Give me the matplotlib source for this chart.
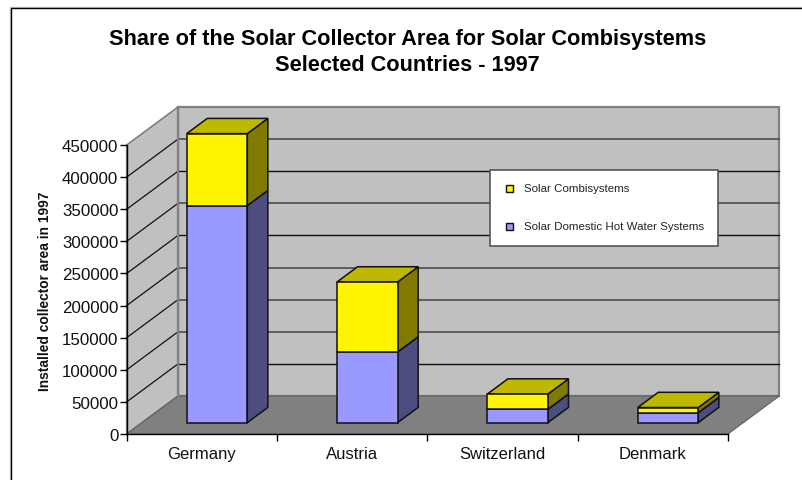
import matplotlib
matplotlib.use('Agg')
import matplotlib.pyplot as plt
from matplotlib.lines import Line2D
from matplotlib.patches import Polygon, Rectangle

countries = ['Germany', 'Austria', 'Switzerland', 'Denmark']
hot_water = [338000, 110000, 21000, 15500]
combi = [112000, 109000, 23500, 8000]
y_ticks = list(range(0, 450001, 50000))

W, H = 802, 481
# front plane of the 3d box, in pixels
LEFT, RIGHT, TOP, BOTTOM = 126.7, 728.0, 146.0, 435.0
DX, DY = 51.3, 38.0  # pixels of depth, converted to axis units below
BAR_W = 0.403
BAR_OFF = 0.297

# the back wall lines come out black or grey in the reference
back_grid = {50000: '#111111', 100000: '#555555', 150000: '#555555', 200000: '#555555',
             250000: '#111111', 300000: '#555555', 350000: '#111111', 400000: '#555555'}

plt.rcParams['font.family'] = ['Liberation Sans', 'DejaVu Sans']
fig = plt.figure(figsize=(W / 100, H / 100), dpi=100)

ax = fig.add_axes([LEFT / W, 1 - BOTTOM / H, (RIGHT - LEFT) / W, (BOTTOM - TOP) / H])
ax.set_xlim(0, 4)
ax.set_ylim(0, 450000)
ax.patch.set_visible(False)
for s in ['top', 'right']:
    ax.spines[s].set_visible(False)
for s in ['left', 'bottom']:
    ax.spines[s].set_linewidth(1.0)
    ax.spines[s].set_zorder(20)

# depth offsets in data units
dx = DX * 4 / (RIGHT - LEFT)
dy = DY * 450000 / (BOTTOM - TOP)


def poly(pts, fc, ec='none', lw=0.0, z=1):
    ax.add_patch(Polygon(pts, closed=True, facecolor=fc, edgecolor=ec, linewidth=lw,
                         zorder=z, clip_on=False, joinstyle='miter'))


# walls and floor
ymax = 450000
poly([(dx, dy), (4 + dx, dy), (4 + dx, ymax + dy), (dx, ymax + dy)], '#c0c0c0', '#808080', 1.6, 1)
poly([(0, 0), (dx, dy), (dx, ymax + dy), (0, ymax)], '#c0c0c0', '#808080', 1.2, 1)
poly([(0, 0), (dx, dy), (4 + dx, dy), (4, 0)], '#808080', '#606060', 0.8, 1.5)

# gridlines on side and back wall
for v, c in back_grid.items():
    ax.plot([0, dx], [v, v + dy], color='#111111', lw=0.9, zorder=2, clip_on=False)
    ax.plot([dx, 4 + dx], [v + dy, v + dy], color=c, lw=1.3 if c == '#555555' else 1.0,
            zorder=2, clip_on=False)
ax.plot([dx, dx], [dy, ymax + dy], color='#808080', lw=1.6, zorder=2.5, clip_on=False)


def box(x0, y0, y1, front, side, top, z):
    x1 = x0 + BAR_W
    ox, oy = 0.3 * dx, 0.3 * dy
    bx, by = 0.4 * dx, 0.4 * dy
    a, b = x0 + ox, x1 + ox
    lo, hi = y0 + oy, y1 + oy
    lw = 1.1
    poly([(b, lo), (b + bx, lo + by), (b + bx, hi + by), (b, hi)], side, '#111111', lw, z)
    poly([(a, hi), (b, hi), (b + bx, hi + by), (a + bx, hi + by)], top, '#111111', lw, z)
    poly([(a, lo), (b, lo), (b, hi), (a, hi)], front, '#111111', lw, z + 0.1)


# bottom to top for each bar, so the lids stay visible
for i in range(len(countries)):
    box(i + BAR_OFF, 0, hot_water[i], '#9999ff', '#4d4d7f', '#4d4d7f', 5 + i)
    box(i + BAR_OFF, hot_water[i], hot_water[i] + combi[i], '#fff500', '#807a00', '#bfb800', 5.3 + i)

# axes ticks and labels
ax.set_yticks(y_ticks)
ax.set_yticklabels([str(v) for v in y_ticks], fontsize=12.2, color='#111111')
ax.tick_params(axis='y', length=5, width=1.0, pad=1)
ax.set_xticks(range(5))
ax.set_xticklabels([])
ax.tick_params(axis='x', length=5, width=1.0, direction='out')
for i, c in enumerate(countries):
    fig.text((LEFT + (i + 0.5) * (RIGHT - LEFT) / 4) / W, 1 - 454.5 / H, c, ha='center', va='center',
             fontsize=12, color='#111111')

fig.text(45 / W, 1 - 291.5 / H, 'Installed collector area in 1997', rotation=90, ha='center', va='center',
         fontsize=9.9, fontweight='bold', color='#111111')

# title
fig.text(407.5 / W, 1 - 39 / H, 'Share of the Solar Collector Area for Solar Combisystems', ha='center', va='center',
         fontsize=15.65, fontweight='bold', color='#000000')
fig.text(407.5 / W, 1 - 65.5 / H, 'Selected Countries - 1997', ha='center', va='center',
         fontsize=15.65, fontweight='bold', color='#000000')

# legend
lx0, ly0, lx1, ly1 = 490.0, 170.7, 718.0, 246.7
fig.add_artist(Rectangle((lx0 / W, 1 - ly1 / H), (lx1 - lx0) / W, (ly1 - ly0) / H, transform=fig.transFigure,
                         facecolor='white', edgecolor='#555555', linewidth=1.2, zorder=30))
for y_px, col, lab in [(189.5, '#fff500', 'Solar Combisystems'), (227.3, '#9999ff', 'Solar Domestic Hot Water Systems')]:
    fig.add_artist(Rectangle((506.3 / W, 1 - (y_px + 3.3) / H), 6.6 / W, 6.6 / H, transform=fig.transFigure,
                             facecolor=col, edgecolor='#111111', linewidth=1.0, zorder=31))
    fig.text(523.5 / W, 1 - (y_px - 0.7) / H, lab, ha='left', va='center', fontsize=8.27, color='#222222', zorder=31)

# chart frame, cut by the image on the right and bottom
fig.add_artist(Line2D([9.5 / W, 9.5 / W, 1], [0, 1 - 7.5 / H, 1 - 7.5 / H],
                      transform=fig.transFigure, color='#c8c8c8', lw=1.0, zorder=39))
fig.add_artist(Line2D([10.5 / W, 10.5 / W, 1], [0, 1 - 8.5 / H, 1 - 8.5 / H],
                      transform=fig.transFigure, color='black', lw=1.0, zorder=40))

fig.savefig('out.png', dpi=100)
